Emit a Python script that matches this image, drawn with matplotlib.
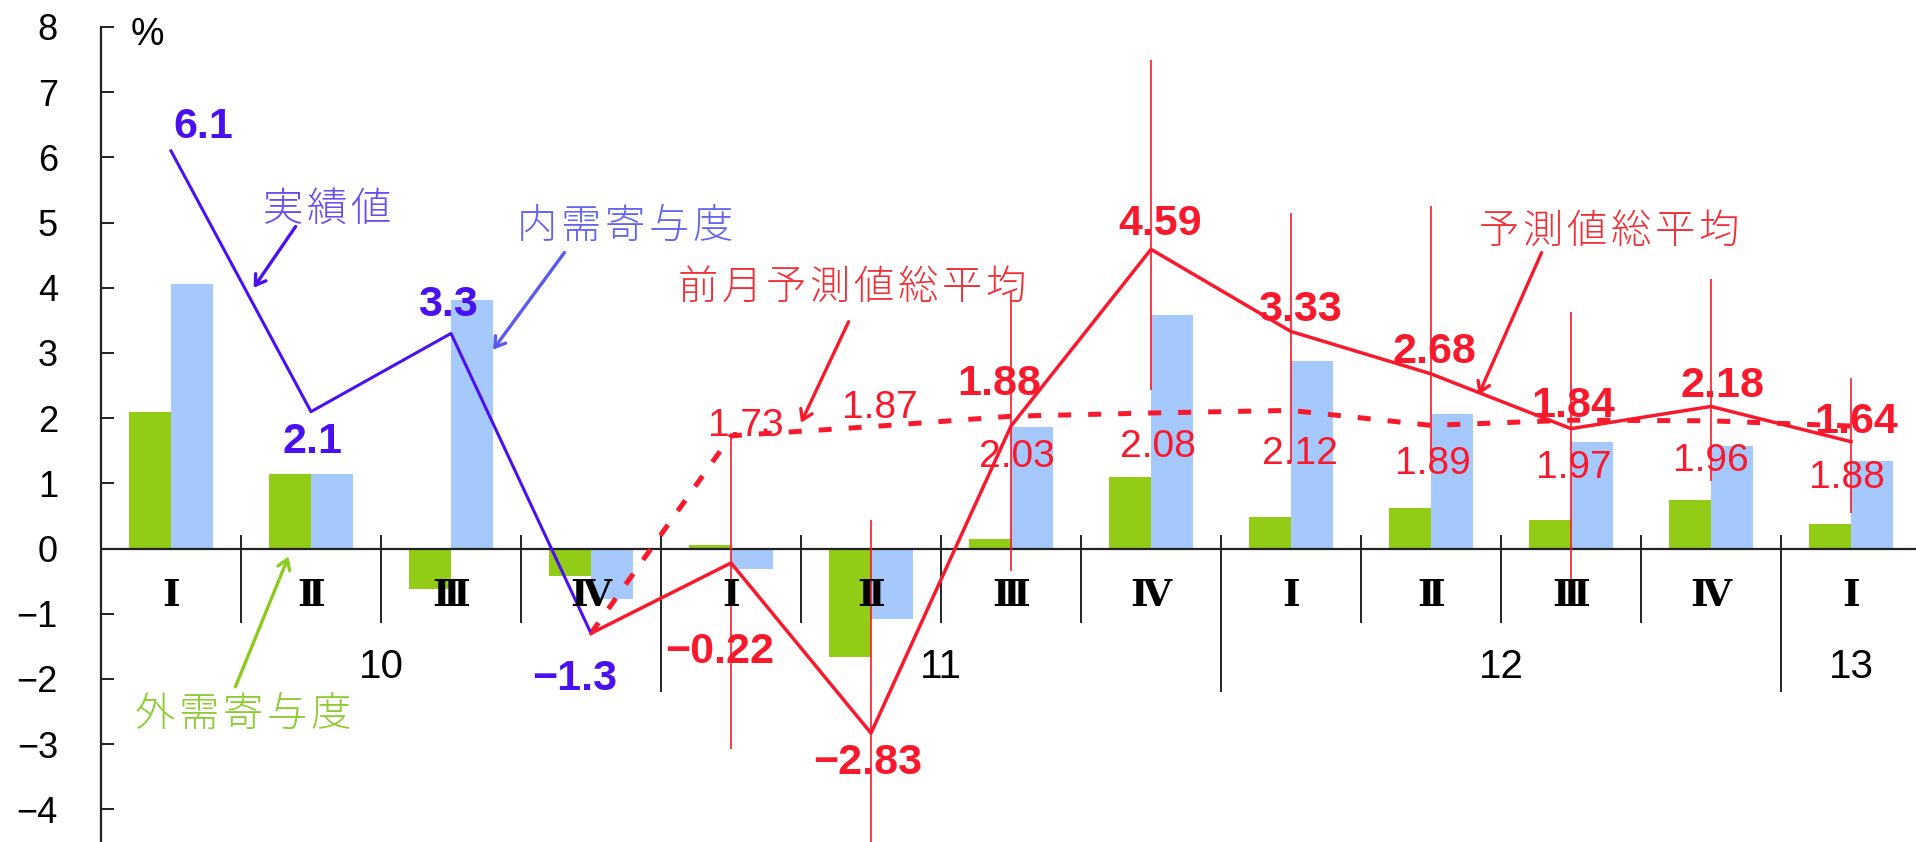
import numpy as np
import matplotlib
matplotlib.use('Agg')
import matplotlib.pyplot as plt

# quarterly data, 2010 Q1 .. 2013 Q1
quarters = ['Ⅰ', 'Ⅱ', 'Ⅲ', 'Ⅳ', 'Ⅰ', 'Ⅱ', 'Ⅲ', 'Ⅳ', 'Ⅰ', 'Ⅱ', 'Ⅲ', 'Ⅳ', 'Ⅰ']
years = ['10', '11', '12', '13']
year_len = [4, 4, 4, 1]

external = [2.1, 1.14, -0.62, -0.42, 0.06, -1.67, 0.14, 1.1, 0.49, 0.63, 0.44, 0.74, 0.38]
domestic = [4.06, 1.14, 3.82, -0.78, -0.32, -1.08, 1.86, 3.59, 2.87, 2.06, 1.64, 1.57, 1.35]

nan = np.nan
actual = [6.1, 2.1, 3.3, -1.3, nan, nan, nan, nan, nan, nan, nan, nan, nan]
forecast = [nan, nan, nan, -1.3, -0.22, -2.83, 1.88, 4.59, 3.33, 2.68, 1.84, 2.18, 1.64]
prev_forecast = [nan, nan, nan, -1.3, 1.73, 1.87, 2.03, 2.08, 2.12, 1.89, 1.97, 1.96, 1.88]
fc_high = [nan, nan, nan, nan, 1.75, 0.44, 3.93, 7.49, 5.15, 5.25, 3.63, 4.14, 2.62]
fc_low = [nan, nan, nan, nan, -3.08, -4.6, -0.35, 2.44, 1.31, 1.21, -0.58, 1.03, 0.55]

GREEN = '#92cc16'
BLUE = '#a5c8fd'
PURPLE = '#4a10f0'
RED = '#f81a2c'

JP = ['Noto Sans CJK JP', 'DejaVu Sans']
NUM = ['Liberation Sans', 'DejaVu Sans']
NARROW = ['Liberation Sans Narrow', 'Liberation Sans', 'DejaVu Sans']

fig = plt.figure(figsize=(19.16, 8.42), dpi=100)
ax = fig.add_axes([101 / 1916, 0, 1820 / 1916, 815 / 842])
ax.set_xlim(0, 13)
ax.set_ylim(-4.5, 8)

x = np.arange(len(quarters)) + 0.5

ax.bar(x - 0.15, external, 0.3, color=GREEN, zorder=2)
ax.bar(x + 0.15, domestic, 0.3, color=BLUE, zorder=2)

ax.axhline(0, color='#222222', lw=1.6, zorder=3)

# quarter separators, longer at year boundaries
bounds = np.cumsum(year_len)[:-1]
for b in range(1, len(quarters)):
    low = -2.19 if b in bounds else -1.12
    ax.plot([b, b], [0.2, low], color='#222222', lw=1.4, zorder=3, clip_on=False)

for xi, q in zip(x, quarters):
    ax.text(xi, -0.72, q, ha='center', va='center', fontsize=27, fontweight='bold',
            family=['DejaVu Serif', 'Noto Sans CJK JP'], zorder=6)

start = 0
for y, n in zip(years, year_len):
    ax.text(start + n / 2, -1.81, y, ha='center', va='center', fontsize=29,
            family=NARROW, zorder=6)
    start += n

# forecast ranges
ax.vlines(x, fc_low, fc_high, color=RED, lw=1.2, zorder=3)

ax.plot(x, prev_forecast, color=RED, lw=3.6, dashes=(2.6, 3.4), zorder=4,
        dash_capstyle='butt')
ax.plot(x, actual, color=PURPLE, lw=2.2, zorder=5)
ax.plot(x, forecast, color=RED, lw=2.5, zorder=5)


def put(xv, yv, txt, dx, dy, va, color, size, family, weight='normal'):
    ax.annotate(txt, (xv, yv), xytext=(dx * 0.72, dy * 0.72), textcoords='offset points',
                ha='center', va=va, color=color, fontsize=size, family=family,
                fontweight=weight, zorder=7)


act_pos = [(32, 13, 'baseline'), (1, -10, 'top'), (-3, 17, 'baseline'), (-16, -26, 'top')]
for i, (dx, dy, va) in enumerate(act_pos):
    put(x[i], actual[i], f'{actual[i]:.1f}'.replace('-', '−'), dx, dy, va, PURPLE, 31, NUM, 'bold')

fc_pos = [(-11, -69, 'top'), (-3, -10, 'top'), (-12, 31, 'baseline'), (9, 14, 'baseline'),
          (9, 10, 'baseline'), (3, 11, 'baseline'), (2, 12, 'baseline'), (11, 9, 'baseline'),
          (5, 9, 'baseline')]
for k, (dx, dy, va) in enumerate(fc_pos):
    i = k + 4
    put(x[i], forecast[i], f'{forecast[i]:.2f}'.replace('-', '−'), dx, dy, va, RED, 31, NUM, 'bold')

pf_pos = [(15, 0, 'baseline'), (9, 9, 'baseline'), (6, -23, 'top'), (7, -16, 'top'),
          (9, -26, 'top'), (2, -21, 'top'), (3, -30, 'top'), (0, -22, 'top'), (-4, -34, 'top')]
for k, (dx, dy, va) in enumerate(pf_pos):
    i = k + 4
    put(x[i], prev_forecast[i], f'{prev_forecast[i]:.2f}', dx, dy, va, RED, 28, NARROW)


def spaced(txt, pos, color, step=44):
    # draw one glyph at a time to get the wide letter spacing of the original
    n = len(txt)
    for j, ch in enumerate(txt):
        off = (j - (n - 1) / 2) * step * 0.72
        ax.annotate(ch, pos, xytext=(off, 0), textcoords='offset points',
                    ha='center', va='center', fontsize=29, color=color,
                    family=JP, fontweight='light', zorder=7)


# series labels with arrows
notes = [
    ('実績値', (1.61, 5.2), (1.39, 4.94), (1.09, 4.0), '#6a4cf0', PURPLE),
    ('内需寄与度', (3.74, 4.94), (3.31, 4.54), (2.8, 3.05), '#6464ee', '#5a5af0'),
    ('前月予測値総平均', (5.36, 4.0), (5.34, 3.48), (5.0, 1.93), '#f03038', RED),
    ('予測値総平均', (10.77, 4.85), (10.29, 4.54), (9.84, 2.36), '#f03038', RED),
    ('外需寄与度', (1.01, -2.55), (0.96, -2.12), (1.34, -0.12), '#8ccc30', '#8ccc20'),
]
for txt, pos, a0, a1, tc, ac in notes:
    spaced(txt, pos, tc)
    ax.annotate('', xy=a1, xytext=a0,
                arrowprops=dict(arrowstyle='->,head_length=0.7,head_width=0.45',
                                color=ac, lw=2.4, shrinkA=0, shrinkB=0), zorder=7)

ax.text(0.33, 7.87, '%', ha='center', va='center', fontsize=27, family=NUM)

ax.set_yticks(range(-4, 9))
ax.set_yticklabels([str(v).replace('-', '−') for v in range(-4, 9)], family=NUM, fontsize=26)
ax.tick_params(axis='y', direction='in', length=9, width=1.4, pad=31, color='#222222')
ax.set_xticks([])
for s in ['top', 'right', 'bottom']:
    ax.spines[s].set_visible(False)
ax.spines['left'].set_linewidth(1.6)
ax.spines['left'].set_color('#222222')

fig.savefig('out.png', dpi=100)
